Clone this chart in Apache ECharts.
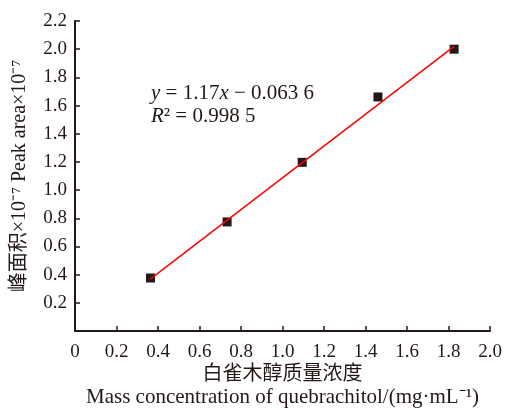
<!DOCTYPE html>
<html>
<head>
<meta charset="utf-8">
<script src="https://cdn.jsdelivr.net/npm/echarts@6/dist/echarts.min.js"></script>
<style>
html, body { margin: 0; padding: 0; background: #fff; }
#container { width: 505px; height: 410px; }
</style>
</head>
<body>
<div id="container"></div>
<script>
// measured points: concentration (mg/mL) vs peak area (x1e-7)
var concX = [0.364, 0.733, 1.095, 1.46, 1.827];
var areaY = [0.376, 0.774, 1.197, 1.661, 2.0];
// fitted line ends
var fitX = [0.364, 1.827];
var fitY = [0.37, 2.02];

var serif = '"Liberation Serif", "Noto Sans CJK SC", serif';
var myChart = echarts.init(document.getElementById("container"));

function pairs(xs, ys) {
    var out = [];
    for (var i = 0; i < xs.length; i++) out.push([xs[i], ys[i]]);
    return out;
}

option = {
    animation: false,
    grid: { left: 75, right: 15, top: 21, bottom: 79, containLabel: false, outerBoundsMode: 'none' },
    xAxis: {
        type: 'value',
        min: 0, max: 2.0, interval: 0.2,
        name: '{cn|白雀木醇质量浓度}\n{en|Mass concentration of quebrachitol/(mg·mL⁻¹)}',
        nameLocation: 'middle',
        nameMoveOverlap: false,
        nameGap: 33,
        nameTextStyle: {
            fontFamily: serif, fontSize: 20, color: '#231815',
            rich: {
                cn: { fontFamily: serif, fontSize: 20, lineHeight: 22, color: '#231815' },
                en: { fontFamily: serif, fontSize: 21, lineHeight: 22, color: '#231815' }
            }
        },
        axisLine: { lineStyle: { color: '#231815', width: 2 } },
        axisTick: { inside: true, length: 5, lineStyle: { color: '#231815', width: 1.5 } },
        axisLabel: {
            fontFamily: serif, fontSize: 19, color: '#231815', margin: 12,
            formatter: function (v) { return v === 0 ? '0' : v.toFixed(1); }
        },
        splitLine: { show: false }
    },
    yAxis: {
        type: 'value',
        min: 0, max: 2.2, interval: 0.2,
        name: '峰面积×10⁻⁷ Peak area×10⁻⁷',
        nameLocation: 'middle',
        nameMoveOverlap: false,
        nameRotate: 90,
        nameGap: 45,
        nameTextStyle: { fontFamily: serif, fontSize: 20, color: '#231815' },
        axisLine: { show: true, lineStyle: { color: '#231815', width: 2 } },
        axisTick: { show: true, inside: true, length: 5, lineStyle: { color: '#231815', width: 1.5 } },
        axisLabel: {
            fontFamily: serif, fontSize: 19, color: '#231815', margin: 8,
            formatter: function (v) { return v === 0 ? '' : v.toFixed(1); }
        },
        splitLine: { show: false }
    },
    graphic: [{
        type: 'text',
        left: 151, top: 82,
        style: {
            text: '{i|y} = 1.17{i|x} − 0.063 6\n{i|R}² = 0.998 5',
            fontFamily: serif, fontSize: 21, fill: '#231815', lineHeight: 23,
            rich: { i: { fontFamily: serif, fontSize: 21, fontStyle: 'italic', fill: '#231815', lineHeight: 23 } }
        }
    }],
    series: [{
        type: 'line',
        data: pairs(fitX, fitY),
        showSymbol: false,
        lineStyle: { color: '#ff0000', width: 1.5 },
        z: 3
    }, {
        type: 'scatter',
        data: pairs(concX, areaY),
        symbol: 'rect',
        symbolSize: 9,
        itemStyle: { color: '#231815', opacity: 1 },
        z: 2
    }]
};

myChart.setOption(option, true);
</script>
</body>
</html>
